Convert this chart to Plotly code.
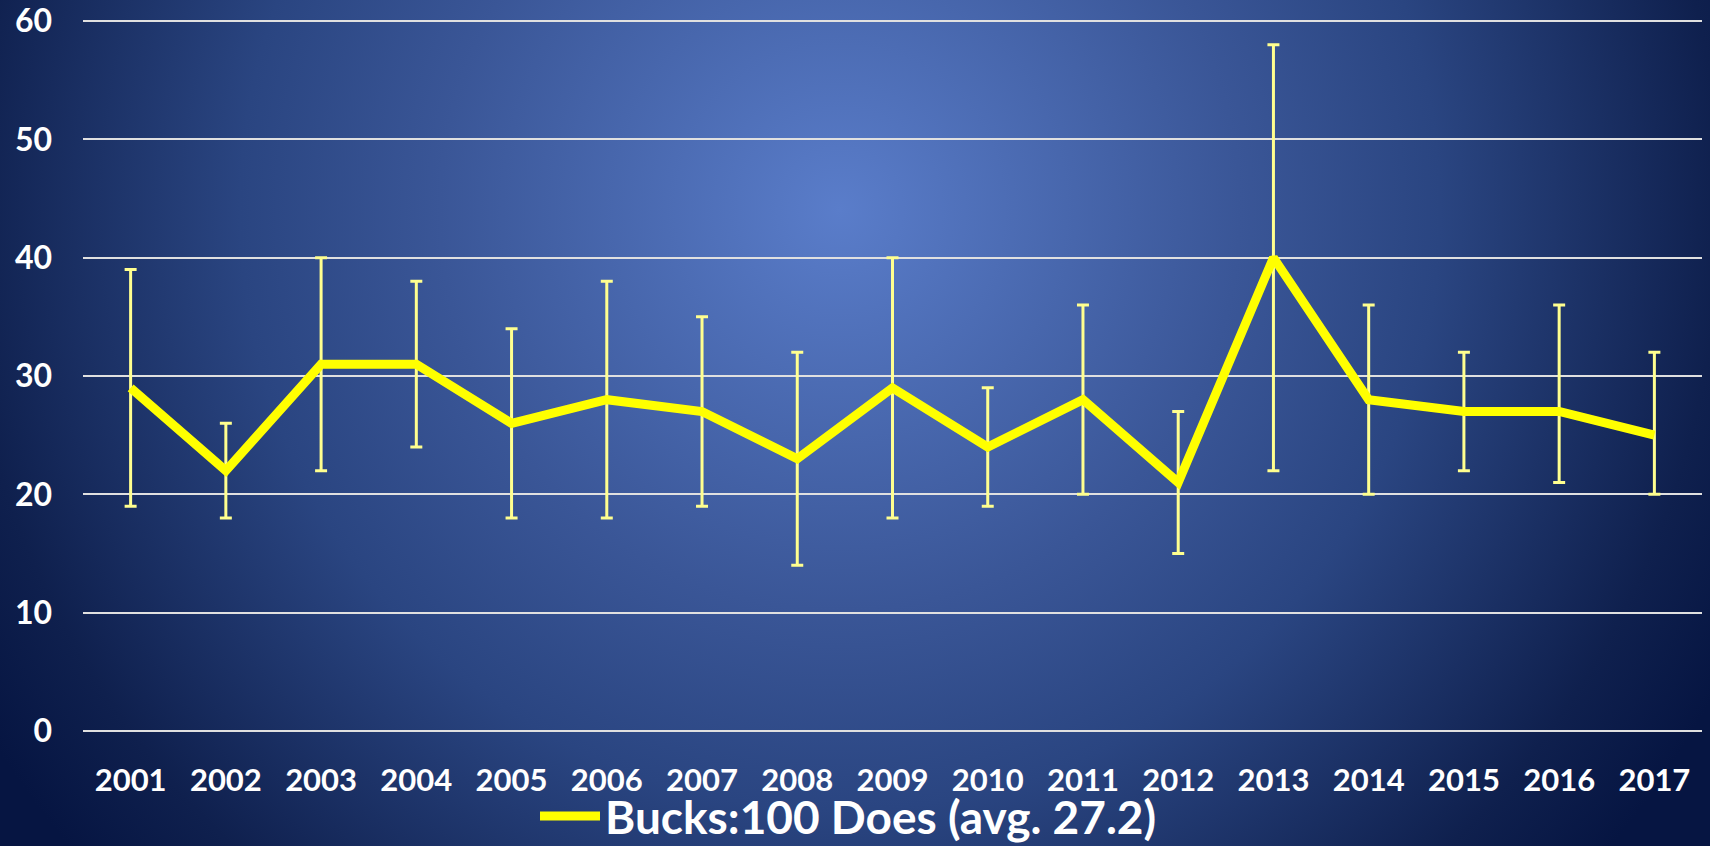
import base64
import plotly.graph_objects as go

years = ["2001", "2002", "2003", "2004", "2005", "2006", "2007", "2008", "2009",
         "2010", "2011", "2012", "2013", "2014", "2015", "2016", "2017"]
ratio = [29, 22, 31, 31, 26, 28, 27, 23, 29, 24, 28, 21, 40, 28, 27, 27, 25]
upper = [39, 26, 40, 38, 34, 38, 35, 32, 40, 29, 36, 27, 58, 36, 32, 36, 32]
lower = [19, 18, 22, 24, 18, 18, 19, 14, 18, 19, 20, 15, 22, 20, 22, 21, 20]
series_name = "Bucks:100 Does (avg. 27.2)"
y_ticks = [0, 10, 20, 30, 40, 50, 60]

err_plus = [u - v for u, v in zip(upper, ratio)]
err_minus = [v - l for v, l in zip(ratio, lower)]

W, H = 1710, 846
L, R, T, B = 83, 8, 19, 113
pw, ph = W - L - R, H - T - B
bottom_px = H - B

svg = f'''<svg xmlns="http://www.w3.org/2000/svg" width="{W}" height="{H}" viewBox="0 0 {W} {H}">
<defs><radialGradient id="g" gradientUnits="userSpaceOnUse" cx="840" cy="210" r="1000">
<stop offset="0" stop-color="#5a7dca"/>
<stop offset="0.4" stop-color="#3a5697"/>
<stop offset="0.6" stop-color="#2a4581"/>
<stop offset="0.88" stop-color="#0f204e"/>
<stop offset="1" stop-color="#061542"/>
</radialGradient></defs>
<rect width="{W}" height="{H}" fill="url(#g)"/></svg>'''
bg_src = "data:image/svg+xml;base64," + base64.b64encode(svg.encode()).decode()

fig = go.Figure()
fig.add_trace(go.Scatter(
    x=years, y=ratio, mode="lines", name=series_name,
    line=dict(color="#ffff00", width=9),
    error_y=dict(type="data", symmetric=False, array=err_plus, arrayminus=err_minus,
                 color="#ffff8f", thickness=3, width=6),
))

fig.add_layout_image(dict(
    source=bg_src, xref="paper", yref="paper",
    x=-L / pw, y=1 + T / ph, sizex=W / pw, sizey=H / ph,
    xanchor="left", yanchor="top", sizing="stretch", layer="below",
))

font_family = "Lato, 'Open Sans', sans-serif"
fig.update_layout(
    width=W, height=H, autosize=False,
    margin=dict(l=L, r=R, t=T, b=B, autoexpand=False),
    paper_bgcolor="#0a1845", plot_bgcolor="rgba(0,0,0,0)",
    font=dict(family=font_family, color="white"),
    showlegend=True,
    legend=dict(orientation="h", x=(535 - L) / pw, xanchor="left",
                y=(bottom_px - 816) / ph, yanchor="middle",
                font=dict(size=46, color="white", family=font_family, weight="bold"),
                bgcolor="rgba(0,0,0,0)", itemwidth=60),
    xaxis=dict(type="category", showgrid=False, zeroline=False, showline=False,
               tickfont=dict(size=31, color="white", weight="bold"),
               ticklabelstandoff=26, range=[-0.5, 16.5]),
    yaxis=dict(range=[-0.169, 60.169], tickvals=y_ticks, showgrid=True, gridcolor="#e0e0e0",
               gridwidth=2, zeroline=False, showline=False,
               tickfont=dict(size=32, color="white", weight="bold"),
               ticklabelstandoff=30),
)

fig.write_html("out.html", config={"displayModeBar": False},
               post_script="document.body.style.margin='0';document.body.style.overflow='hidden';")
